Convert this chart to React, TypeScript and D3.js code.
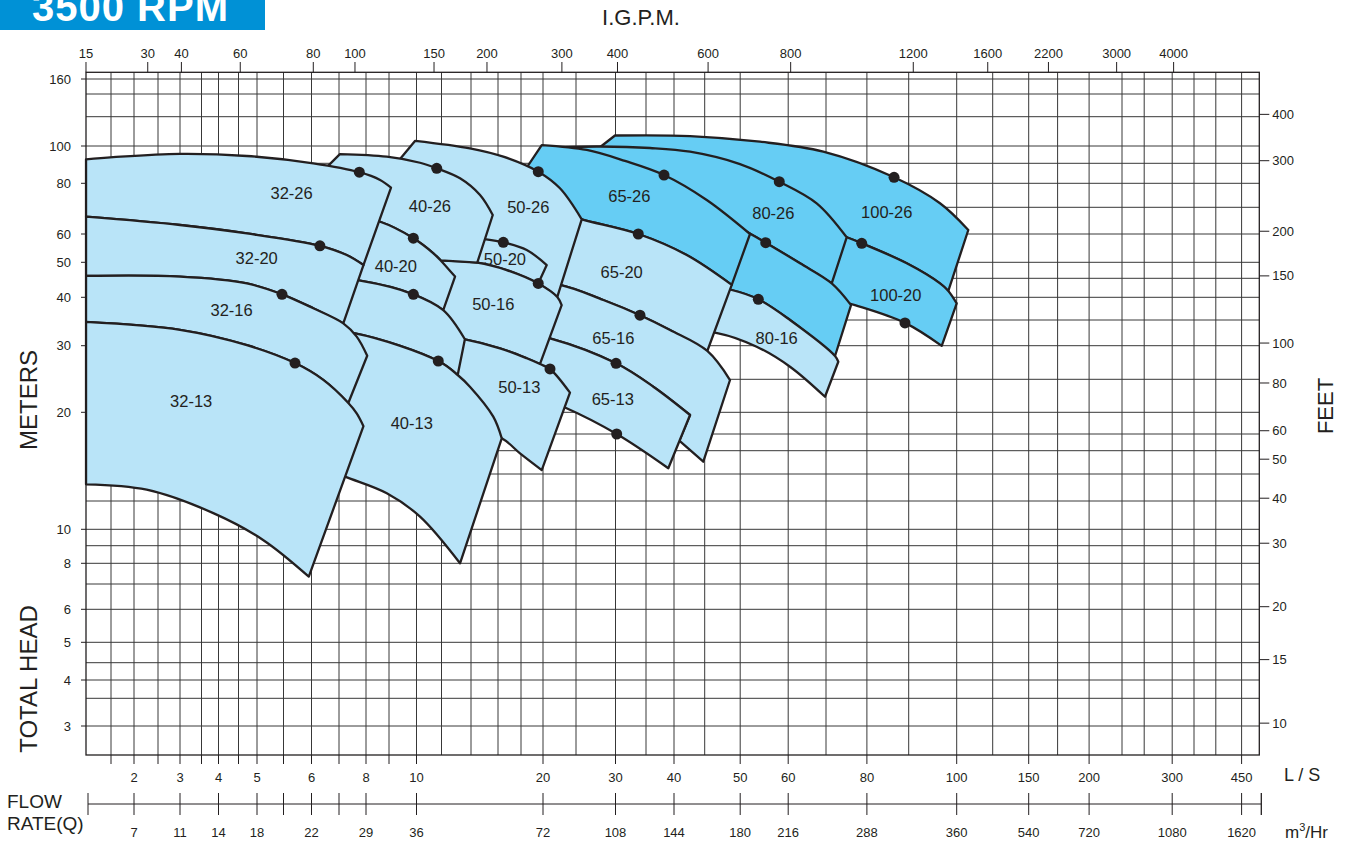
import React from 'react';
import * as d3 from 'd3';

type Pt = [number, number];
type Piece = { c: Pt[]; from?: number; to?: number } | { p: Pt };

// gridlines of the printed chart: flow in L/S, head in metres, and where each sits
const X_GRID = [1.1365, 1.5, 2, 2.5, 3, 3.5, 4, 4.5, 5, 5.5, 6, 7, 8, 9, 10, 12, 14, 16, 18, 20, 25, 30, 35, 40, 45, 50, 60, 70, 80, 90, 100, 125, 150, 175, 200, 233, 267, 300, 350, 400, 450, 500];
const X_PX = [86, 111, 134, 158, 180, 201.5, 218.5, 238.5, 257, 283.5, 311.5, 339, 366, 389, 416.5, 441.5, 471, 498, 521, 543, 576, 615.5, 646, 674, 704.7, 740.2, 788.2, 826, 866.9, 908.7, 956.7, 992.7, 1028.7, 1057.6, 1089.1, 1122, 1144.2, 1172.2, 1194, 1215.8, 1241.6, 1259.3];
const Y_GRID = [170, 160, 140, 120, 100, 90, 80, 70, 60, 50, 45, 40, 35, 30, 25, 20, 18, 16, 14, 12, 10, 9, 8, 7, 6, 5, 4.5, 4, 3.5, 3, 2.6];
const Y_PX = [72.3, 79, 94, 116.7, 146, 163.3, 183.3, 207.3, 234, 262.3, 278.3, 297.3, 320, 345.7, 379.3, 412.3, 434, 450.7, 474, 501, 529.3, 545.7, 563.3, 584, 609.3, 642.3, 662.7, 680, 698.3, 726, 755];

const LS_TICKS = [1.5, 2, 2.5, 3, 3.5, 4, 4.5, 5, 5.5, 6, 7, 8, 9, 10, 20, 30, 40, 50, 60, 80, 100, 150, 200, 300, 450];
const LS_LABELS = [2, 3, 4, 5, 6, 8, 10, 20, 30, 40, 50, 60, 80, 100, 150, 200, 300, 450];
const IGPM_LABELS = [15, 30, 40, 60, 80, 100, 150, 200, 300, 400, 600, 800, 1200, 1600, 2200, 3000, 4000];
const M3_TICKS_LS = [2, 3, 4, 5, 5.5, 6, 7, 8, 10, 20, 30, 40, 50, 60, 80, 100, 150, 200, 300, 450];
const M3_UNLABELED = [5.5, 7];
const METER_LABELS = [160, 100, 80, 60, 50, 40, 30, 20, 10, 8, 6, 5, 4, 3];
const FEET_LABELS = [400, 300, 200, 150, 100, 80, 60, 50, 40, 30, 20, 15, 10];

// impeller curves, [L/S, m]
const C32_26: Pt[] = [[1.137, 92.2], [1.54, 93.4], [3.0, 95.3], [4.72, 94.1], [6.06, 90.0], [7.74, 85.4], [8.6, 81.6], [9.07, 78.1]];
const C32_20: Pt[] = [[1.137, 66.3], [3.0, 63.2], [4.72, 60.2], [6.29, 55.6], [7.27, 52.4], [7.9, 49.1]];
const C32_16: Pt[] = [[1.137, 45.7], [3.0, 45.5], [4.72, 43.6], [5.47, 40.75], [6.06, 37.5], [7.15, 34.3], [7.64, 31.67], [8.05, 28.4]];
const C32_13: Pt[] = [[1.137, 34.6], [3.0, 33.0], [4.72, 30.1], [5.7, 27.3], [6.41, 24.9], [7.33, 21.3], [7.64, 19.9], [7.9, 18.7]];
const C32_MIN: Pt[] = [[1.137, 13.2], [2.25, 12.8], [3.84, 11.1], [5.11, 9.34], [5.95, 7.34]];

const C40_26: Pt[] = [[7.03, 95.2], [8.9, 93.7], [10.26, 90.3], [11.59, 87.4], [13.22, 82.4], [14.64, 74.96], [15.59, 66.96]];
const C40_20: Pt[] = [[5.61, 71.3], [8.6, 64.4], [9.88, 58.4], [11.31, 53.0], [11.93, 50.6], [12.88, 45.5]];
const C40_16: Pt[] = [[5.79, 45.7], [7.77, 44.33], [9.88, 40.75], [12.11, 37.1], [13.56, 31.18]];
const C40_13: Pt[] = [[5.79, 32.96], [7.58, 32.32], [11.72, 27.61], [13.06, 25.59], [13.92, 23.78], [15.63, 19.58], [16.31, 17.46]];
const C40_MIN: Pt[] = [[5.79, 15.26], [7.21, 13.79], [8.9, 12.54], [10.26, 10.85], [13.22, 8.0]];

const C50_26: Pt[] = [[9.95, 103.3], [13.92, 98.6], [16.44, 93.7], [19.55, 85.65], [22.43, 77.8], [25.67, 65.3]];
const C50_20: Pt[] = [[13.22, 58.85], [15.06, 57.98], [16.44, 56.87], [18.5, 54.12], [20.51, 49.1]];
const C50_16: Pt[] = [[6.22, 51.4], [11.93, 50.6], [14.44, 49.87], [16.73, 47.5], [19.55, 43.6], [22.03, 40.1], [22.69, 38.2]];
const C50_13: Pt[] = [[6.22, 35.0], [13.56, 31.18], [16.16, 29.58], [18.5, 28.02], [19.71, 27.16], [20.97, 26.44], [24.0, 22.84]];
const C50_MIN: Pt[] = [[6.22, 19.27], [13.22, 18.8], [16.31, 17.46], [17.91, 15.76], [19.88, 14.32]];

const C65_26: Pt[] = [[19.88, 100.6], [26.27, 97.6], [31.47, 91.3], [38.14, 84.0], [45.27, 72.9], [51.9, 60.0]];
const C65_20: Pt[] = [[16.58, 72.9], [22.43, 68.1], [25.67, 65.3], [33.66, 60.0], [42.0, 52.4], [48.76, 43.2]];
const C65_16: Pt[] = [[16.58, 44.5], [22.43, 43.2], [28.36, 39.37], [33.95, 36.0], [39.25, 32.96], [45.35, 29.15], [48.51, 24.88]];
const C65_13: Pt[] = [[16.58, 32.96], [20.97, 31.36], [30.08, 27.27], [36.24, 23.78], [42.54, 19.74]];
const C65_MIN: Pt[] = [[16.58, 24.06], [22.94, 20.77], [30.18, 18.0], [38.93, 14.47]];

const C80_26: Pt[] = [[20.27, 99.1], [27.93, 99.7], [35.68, 98.8], [42.54, 96.6], [49.97, 89.6], [58.0, 80.76], [67.39, 71.58], [74.89, 58.74]];
const C80_20: Pt[] = [[22.43, 84.0], [35.68, 77.1], [44.2, 69.7], [52.1, 59.88], [55.09, 56.73], [62.96, 49.67], [71.32, 43.6], [75.96, 38.2]];
const C80_16: Pt[] = [[22.43, 47.5], [35.68, 45.1], [48.76, 41.85], [53.56, 39.53], [60.44, 35.0], [72.09, 28.37], [72.87, 27.5]];
const C80_MIN: Pt[] = [[35.68, 32.96], [46.85, 32.32], [53.23, 29.84], [60.44, 26.77], [69.71, 22.22]];

const C100_26: Pt[] = [[29.93, 106.75], [42.54, 106.4], [53.9, 102.7], [69.23, 96.6], [86.36, 82.87], [96.4, 71.58], [107.45, 61.4]];
const C100_20: Pt[] = [[58.16, 66.96], [74.89, 58.74], [78.66, 56.5], [89.5, 49.67], [96.4, 43.6], [98.18, 41.6], [100, 38.6]];
const C100_MIN: Pt[] = [[62.96, 41.85], [76.95, 38.2], [89.06, 34.4], [96.77, 29.97]];

// best efficiency points
const DOTS: Pt[] = [
  [7.74, 85.4], [6.29, 55.6], [5.47, 40.75], [5.7, 27.3],
  [11.59, 87.4], [9.88, 58.4], [9.88, 40.75], [11.72, 27.61],
  [19.55, 85.65], [16.44, 56.87], [19.55, 43.6], [20.97, 26.44],
  [38.14, 84.0], [33.66, 60.0], [33.95, 36.0], [30.08, 27.27], [30.18, 18.0],
  [58.0, 80.76], [55.09, 56.73], [53.56, 39.53],
  [86.36, 82.87], [78.66, 56.5], [89.06, 34.4],
];

const MODEL_LABELS = ['32-26', '32-20', '32-16', '32-13', '40-26', '40-20', '40-13', '50-26', '50-20', '50-16', '50-13', '65-26', '65-20', '65-16', '65-13', '80-26', '80-16', '100-26', '100-20'];
const LABEL_Q = [5.64, 4.99, 4.32, 3.25, 11.03, 9.24, 9.82, 18.64, 16.58, 15.63, 17.85, 32.17, 30.95, 29.7, 29.62, 56.7, 57.43, 84.6, 86.77];
const LABEL_H = [75.7, 51.3, 36.97, 21.6, 70.5, 48.8, 19.0, 70.2, 50.98, 38.46, 23.68, 74.26, 46.69, 31.36, 21.84, 67.6, 31.36, 68.2, 40.4];

const DARK_MODELS = ['65-26', '80-26', '80-20', '100-26', '100-20'];

const whole = (c: Pt[]): Piece => ({ c });
const back = (c: Pt[], from?: number): Piece => ({ c, from: from ?? c[c.length - 1][0], to: c[0][0] });

// each region: top curve, right edge, bottom curve back; drawn right to left so smaller pumps sit on top
const REGIONS: { name: string; pieces: Piece[] }[] = [
  { name: '100-26', pieces: [whole(C100_26), back(C100_20, 98.18), { p: [26.67, 94.66] }] },
  { name: '100-20', pieces: [whole(C100_20), back(C100_MIN)] },
  { name: '80-26', pieces: [whole(C80_26), back(C80_20, 71.32)] },
  { name: '80-20', pieces: [whole(C80_20), back(C80_16, 72.09)] },
  { name: '80-16', pieces: [whole(C80_16), back(C80_MIN)] },
  { name: '65-26', pieces: [whole(C65_26), back(C65_20)] },
  { name: '65-20', pieces: [whole(C65_20), back(C65_16, 45.35)] },
  { name: '65-16', pieces: [whole(C65_16), { p: [44.76, 15.02] }, { p: [40.82, 17.17] }, back(C65_13)] },
  { name: '65-13', pieces: [whole(C65_13), back(C65_MIN)] },
  { name: '50-26', pieces: [whole(C50_26), back(C50_16, 22.03)] },
  { name: '50-20', pieces: [whole(C50_20), back(C50_16, 19.55)] },
  { name: '50-16', pieces: [whole(C50_16), back(C50_13, 19.71)] },
  { name: '50-13', pieces: [whole(C50_13), back(C50_MIN)] },
  { name: '40-26', pieces: [whole(C40_26), { p: [14.44, 49.87] }, back(C40_20, 11.93)] },
  { name: '40-20', pieces: [whole(C40_20), back(C40_16, 12.11)] },
  { name: '40-16', pieces: [whole(C40_16), back(C40_13, 13.06)] },
  { name: '40-13', pieces: [whole(C40_13), back(C40_MIN)] },
  { name: '32-26', pieces: [whole(C32_26), back(C32_20)] },
  { name: '32-20', pieces: [whole(C32_20), back(C32_16, 7.15)] },
  { name: '32-16', pieces: [whole(C32_16), back(C32_13, 7.33)] },
  { name: '32-13', pieces: [whole(C32_13), back(C32_MIN)] },
];

const FONT = 'Liberation Sans, Arial, Helvetica, sans-serif';
const INK = '#231f20';
const LIGHT = '#b9e4f8';
const DARK = '#66cdf4';

const xl = d3.scaleLinear().domain(X_GRID.map(Math.log10)).range(X_PX);
const yl = d3.scaleLinear().domain(Y_GRID.map(Math.log10)).range(Y_PX);
const x = (q: number) => xl(Math.log10(q));
const y = (h: number) => yl(Math.log10(h));

const line = d3.line<Pt>()
  .x(d => x(d[0]))
  .y(d => y(d[1]))
  .curve(d3.curveCatmullRom.alpha(0.5));

function slice(c: Pt[], from?: number, to?: number): Pt[] {
  const a = from ?? c[0][0];
  const b = to ?? c[c.length - 1][0];
  const lo = Math.min(a, b) - 1e-6, hi = Math.max(a, b) + 1e-6;
  const pts = c.filter(p => p[0] >= lo && p[0] <= hi);
  return a <= b ? pts : pts.slice().reverse();
}

function regionPath(pieces: Piece[]): string {
  let d = '';
  pieces.forEach((pc, i) => {
    if ('p' in pc) {
      d += `L${x(pc.p[0])},${y(pc.p[1])}`;
      return;
    }
    const seg = line(slice(pc.c, pc.from, pc.to)) || '';
    d += i === 0 ? seg : seg.replace(/^M/, 'L');
  });
  return d + 'Z';
}

const App: React.FC = () => {
  const left = x(X_GRID[0]);
  const right = x(X_GRID[X_GRID.length - 1]);
  const top = y(Y_GRID[0]);
  const bottom = y(Y_GRID[Y_GRID.length - 1]);

  return (
    <svg width={1346} height={844} style={{ position: 'absolute', left: 0, top: 0, background: '#fff' }} fontFamily={FONT}>
      <rect x={0} y={0} width={265} height={30} fill="#0091d6" />
      <text x={32} y={21} fill="#fff" fontSize={40} fontWeight="bold" letterSpacing={1}>3500 RPM</text>
      <text x={641} y={25} fontSize={22} fill={INK} textAnchor="middle">I.G.P.M.</text>

      {/* grid */}
      <g stroke="#383838" strokeWidth={1}>
        {X_GRID.slice(1, -1).map(v => (
          <line key={'gx' + v} x1={x(v)} x2={x(v)} y1={top} y2={bottom} />
        ))}
        {Y_GRID.slice(1, -1).map(v => (
          <line key={'gy' + v} x1={left} x2={right} y1={y(v)} y2={y(v)} />
        ))}
      </g>

      {/* pump regions */}
      <g stroke={INK} strokeWidth={2.3} strokeLinejoin="round">
        {REGIONS.map(r => (
          <path key={r.name} d={regionPath(r.pieces)} fill={DARK_MODELS.includes(r.name) ? DARK : LIGHT} />
        ))}
      </g>

      <rect x={left} y={top} width={right - left} height={bottom - top} fill="none" stroke={INK} strokeWidth={1.3} />

      {DOTS.map((d, i) => (
        <circle key={'dot' + i} cx={x(d[0])} cy={y(d[1])} r={5.5} fill={INK} />
      ))}

      {MODEL_LABELS.map((t, i) => (
        <text key={t} x={x(LABEL_Q[i])} y={y(LABEL_H[i])} dy="0.35em" textAnchor="middle" fontSize={16.5} fill={INK}>{t}</text>
      ))}

      {/* top axis, I.G.P.M. */}
      <g fill={INK} fontSize={13} textAnchor="middle">
        {IGPM_LABELS.map(v => {
          const px = x(v / 13.2);
          return (
            <g key={'ig' + v}>
              <line x1={px} x2={px} y1={62} y2={top} stroke={INK} strokeWidth={1} />
              <text x={px} y={57.5}>{v}</text>
            </g>
          );
        })}
      </g>

      {/* left axis, metres */}
      <g fill={INK} fontSize={13} textAnchor="end">
        {METER_LABELS.map(v => (
          <g key={'m' + v}>
            <line x1={left - 5} x2={left} y1={y(v)} y2={y(v)} stroke={INK} strokeWidth={1} />
            <text x={71} y={y(v)} dy="0.35em">{v}</text>
          </g>
        ))}
      </g>

      {/* right axis, feet */}
      <g fill={INK} fontSize={13} textAnchor="start">
        {FEET_LABELS.map(v => {
          const py = y(v / 3.2808);
          return (
            <g key={'ft' + v}>
              <line x1={right} x2={right + 10} y1={py} y2={py} stroke={INK} strokeWidth={1} />
              <text x={right + 13} y={py} dy="0.35em">{v}</text>
            </g>
          );
        })}
      </g>

      {/* bottom axis, L/S */}
      <g fill={INK} fontSize={13} textAnchor="middle">
        {LS_TICKS.map(v => (
          <line key={'lst' + v} x1={x(v)} x2={x(v)} y1={bottom} y2={bottom + 9} stroke={INK} strokeWidth={1} />
        ))}
        {LS_LABELS.map(v => (
          <text key={'lsl' + v} x={x(v)} y={782}>{v}</text>
        ))}
      </g>

      {/* m3/Hr axis */}
      <g fill={INK} fontSize={13} textAnchor="middle">
        <line x1={left + 2} x2={right + 2} y1={804} y2={804} stroke={INK} strokeWidth={1} />
        <line x1={left + 2} x2={left + 2} y1={793} y2={815} stroke={INK} strokeWidth={1} />
        <line x1={right + 2} x2={right + 2} y1={793} y2={815} stroke={INK} strokeWidth={1.3} />
        {M3_TICKS_LS.map(v => (
          <g key={'m3' + v}>
            <line x1={x(v)} x2={x(v)} y1={793} y2={815} stroke={INK} strokeWidth={1} />
            {!M3_UNLABELED.includes(v) && <text x={x(v)} y={837}>{Math.round(v * 3.6)}</text>}
          </g>
        ))}
      </g>

      <g fill={INK}>
        <text transform="translate(37,400) rotate(-90)" fontSize={24} textAnchor="middle">METERS</text>
        <text transform="translate(37,679) rotate(-90)" fontSize={24} textAnchor="middle">TOTAL HEAD</text>
        <text transform="translate(1333,406) rotate(-90)" fontSize={22} textAnchor="middle">FEET</text>
        <text x={7} y={808} fontSize={19}>FLOW</text>
        <text x={7} y={830} fontSize={19}>RATE(Q)</text>
        <text x={1284} y={781} fontSize={18}>L / S</text>
        <text x={1285} y={838} fontSize={17}>m<tspan fontSize={11} dy={-7}>3</tspan><tspan dy={7}>/Hr</tspan></text>
      </g>
    </svg>
  );
};

export default App;
